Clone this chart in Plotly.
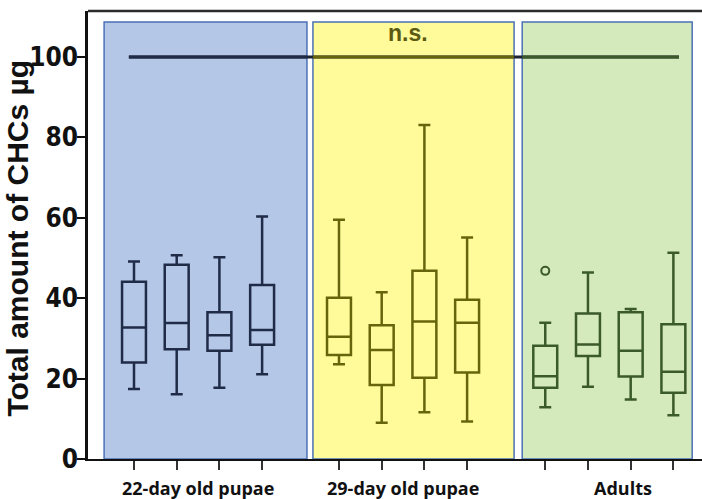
import plotly.graph_objects as go

# ---- data ----
groups = ["22-day old pupae", "29-day old pupae", "Adults"]
lower_whisker = [[17.4, 16.1, 17.7, 21.1], [23.6, 9.0, 11.6, 9.3], [12.9, 18.0, 14.8, 10.9]]
q1_vals = [[24.0, 27.3, 26.9, 28.4], [25.9, 18.4, 20.2, 21.5], [17.7, 25.6, 20.5, 16.5]]
medians = [[32.7, 33.8, 30.8, 32.1], [30.4, 27.1, 34.2, 33.9], [20.6, 28.5, 26.9, 21.7]]
q3_vals = [[44.1, 48.3, 36.5, 43.3], [40.1, 33.3, 46.8, 39.6], [28.2, 36.2, 36.5, 33.5]]
upper_whisker = [[49.1, 50.7, 50.2, 60.3], [59.5, 41.5, 83.1, 55.1], [33.9, 46.4, 37.3, 51.3]]
outliers = [[], [], [46.8]]  # outlier above 1st adult box
outlier_box = [[], [], [0]]
ns_level = 100
ns_text = "n.s."
y_ticks = [0, 20, 40, 60, 80, 100]
y_title = "Total amount of CHCs µg"

# ---- styling ----
group_start = [1.0, 5.8, 10.63]
panel_pad_left = [0.70, 0.61, 0.54]
panel_pad_right = [1.05, 1.10, 0.44]
panel_fill = ["#b4c7e7", "#fffb9b", "#d5eabc"]
panel_edge = "#4a70b5"
box_color = ["#1f2b47", "#66650c", "#3b5a2b"]
label_x_shift = [0.0, 0.0, 0.33]

fig = go.Figure()
shapes = []
annotations = []
tick_positions = []

for g in range(len(groups)):
    n = len(medians[g])
    pos = [group_start[g] + i for i in range(n)]
    tick_positions += pos
    shapes.append(dict(type="rect", layer="below", xref="x", yref="y",
                       x0=pos[0] - panel_pad_left[g], x1=pos[-1] + panel_pad_right[g],
                       y0=0, y1=108.7, fillcolor=panel_fill[g],
                       line=dict(color=panel_edge, width=1.5)))

x_first = group_start[0] - 0.12
x_last = group_start[-1] + len(medians[-1]) - 1 + 0.13
shapes.append(dict(type="line", layer="below", xref="x", yref="y",
                   x0=x_first, x1=x_last, y0=ns_level, y1=ns_level,
                   line=dict(color="#1c2334", width=3)))
for g in range(len(groups)):
    n = len(medians[g])
    a = max(x_first, group_start[g] - panel_pad_left[g])
    b = min(x_last, group_start[g] + n - 1 + panel_pad_right[g])
    shapes.append(dict(type="line", layer="below", xref="x", yref="y",
                       x0=a, x1=b, y0=ns_level, y1=ns_level,
                       line=dict(color=box_color[g], width=3)))

shapes.append(dict(type="line", xref="paper", yref="paper", x0=0, x1=1, y0=1, y1=1,
                   line=dict(color="#2b2b2b", width=2.5)))

for g in range(len(groups)):
    n = len(medians[g])
    pos = [group_start[g] + i for i in range(n)]
    fig.add_trace(go.Box(
        x=pos, q1=q1_vals[g], median=medians[g], q3=q3_vals[g],
        lowerfence=lower_whisker[g], upperfence=upper_whisker[g],
        width=0.56, whiskerwidth=0.5,
        line=dict(color=box_color[g], width=2.5),
        fillcolor="rgba(0,0,0,0)", boxpoints=False, hoverinfo="skip",
        showlegend=False))
    if outliers[g]:
        fig.add_trace(go.Scatter(
            x=[pos[i] for i in outlier_box[g]], y=outliers[g], mode="markers",
            marker=dict(symbol="circle-open", size=8, color=box_color[g],
                        line=dict(width=2, color=box_color[g])),
            showlegend=False, hoverinfo="skip"))
    annotations.append(dict(x=group_start[g] + (n - 1) / 2 + label_x_shift[g], y=-0.064,
                            xref="x", yref="paper", yanchor="middle", showarrow=False,
                            text=groups[g],
                            font=dict(family="Open Sans", size=18, color="#111", weight="bold")))

annotations.append(dict(x=7.42, y=106.0, xref="x", yref="y", showarrow=False,
                        text=ns_text,
                        font=dict(family="Liberation Sans", size=23, color="#5b5a12",
                                  weight="bold")))
annotations.append(dict(x=-70 / 614, y=0.492, xref="paper", yref="paper", xanchor="center",
                        yanchor="middle", showarrow=False, textangle=-90,
                        text=y_title,
                        font=dict(family="Liberation Sans", size=30, color="#111",
                                  weight="bold")))

fig.update_layout(
    width=702, height=499,
    margin=dict(l=88, r=0, t=11, b=40, autoexpand=False),
    paper_bgcolor="white", plot_bgcolor="white",
    shapes=shapes, annotations=annotations,
    xaxis=dict(range=[-0.077, 14.30], showgrid=False, zeroline=False, automargin=False,
               tickvals=tick_positions, ticktext=[""] * len(tick_positions),
               ticks="outside", ticklen=9, tickwidth=1.5, tickcolor="#333",
               showline=True, linecolor="#111", linewidth=2),
    yaxis=dict(range=[0, 111.44], showgrid=False, zeroline=False, automargin=False,
               tickvals=y_ticks, ticks="outside", ticklen=8, tickwidth=2,
               tickcolor="#111", showline=True, linecolor="#111", linewidth=2.5,
               ticklabelstandoff=-6,
               tickfont=dict(family="DejaVu Sans Condensed", size=26,
                             color="#111", weight="bold")),
)

fig.write_html("out.html", config={"displayModeBar": False},
               post_script="document.body.style.margin='0px';document.body.style.padding='0px';")
